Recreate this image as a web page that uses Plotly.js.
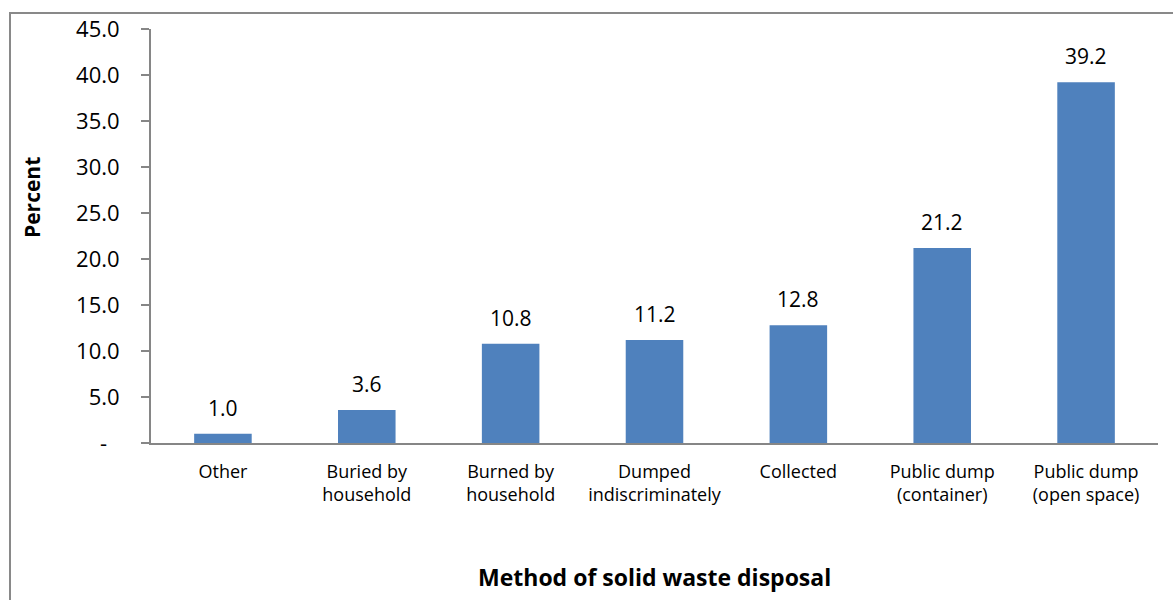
<!DOCTYPE html>
<html>
<head>
<meta charset="utf-8">
<script src="https://cdn.plot.ly/plotly-3.0.1.min.js"></script>
<style>
  html, body { margin: 0; padding: 0; background: #ffffff; overflow: hidden; }
  #wrap { position: relative; width: 1173px; height: 600px; }
  #frame { position: absolute; left: 9px; top: 12px; width: 1200px; height: 640px;
           border-left: 2px solid #898989; border-top: 2px solid #898989; box-sizing: border-box; }
  #chart { position: absolute; left: 0; top: 0; width: 1173px; height: 600px; }
</style>
</head>
<body>
<div id="wrap">
  <div id="frame"></div>
  <div id="chart"></div>
</div>
<script>
// Data
const categories = [
  "Other",
  "Buried by<br>household",
  "Burned by<br>household",
  "Dumped<br>indiscriminately",
  "Collected",
  "Public dump<br>(container)",
  "Public dump<br>(open space)"
];
const percentValues = [1.0, 3.6, 10.8, 11.2, 12.8, 21.2, 39.2];
const yTickValues = [0, 5, 10, 15, 20, 25, 30, 35, 40, 45];
const yTickLabels = ["-\u2007", "5.0", "10.0", "15.0", "20.0", "25.0", "30.0", "35.0", "40.0", "45.0"];
const xTitle = "Method of solid waste disposal";
const yTitle = "Percent";

const FONT = "'Open Sans', 'Liberation Sans', sans-serif";

const trace = {
  type: "bar",
  x: categories,
  y: percentValues,
  marker: { color: "#4F81BD", line: { width: 0 } },
  hoverinfo: "x+y"
};

// value labels placed above each bar via the axis scales
const valueLabels = categories.map((c, i) => ({
  x: c,
  y: percentValues[i],
  xref: "x", yref: "y",
  text: percentValues[i].toFixed(1),
  showarrow: false,
  yanchor: "middle",
  yshift: 26,
  font: { family: FONT, size: 21, color: "#000000" }
}));

const layout = {
  width: 1173,
  height: 600,
  paper_bgcolor: "rgba(0,0,0,0)",
  plot_bgcolor: "rgba(0,0,0,0)",
  margin: { l: 151, r: 15, t: 29, b: 157, pad: 0 },
  bargap: 0.6,
  showlegend: false,
  font: { family: FONT, color: "#000000" },
  xaxis: {
    type: "category",
    showline: true,
    linecolor: "#868686",
    linewidth: 2,
    ticks: "",
    showgrid: false,
    zeroline: false,
    tickfont: { family: FONT, size: 18, color: "#000000" },
    ticklabelstandoff: 11,
    automargin: false,
    fixedrange: true
  },
  yaxis: {
    range: [0, 45],
    tickmode: "array",
    tickvals: yTickValues,
    ticktext: yTickLabels,
    showline: true,
    linecolor: "#868686",
    linewidth: 2,
    ticks: "outside",
    ticklen: 8,
    tickwidth: 2,
    tickcolor: "#868686",
    showgrid: false,
    zeroline: false,
    tickfont: { family: FONT, size: 22, color: "#000000" },
    ticklabelstandoff: 17,
    automargin: false,
    fixedrange: true
  },
  annotations: valueLabels.concat([
    {
      text: "<b>" + xTitle + "</b>",
      xref: "paper", yref: "paper",
      x: 0.5, y: -134 / 414,
      xanchor: "center", yanchor: "middle",
      showarrow: false,
      font: { family: FONT, size: 23, color: "#000000" }
    },
    {
      text: "<b>" + yTitle + "</b>",
      xref: "paper", yref: "paper",
      x: -119 / 1007, y: (443 - 198) / 414,
      xanchor: "center", yanchor: "middle",
      textangle: -90,
      showarrow: false,
      font: { family: FONT, size: 21, color: "#000000" }
    }
  ])
};

Plotly.newPlot("chart", [trace], layout, { displayModeBar: false, staticPlot: true });
</script>
</body>
</html>
